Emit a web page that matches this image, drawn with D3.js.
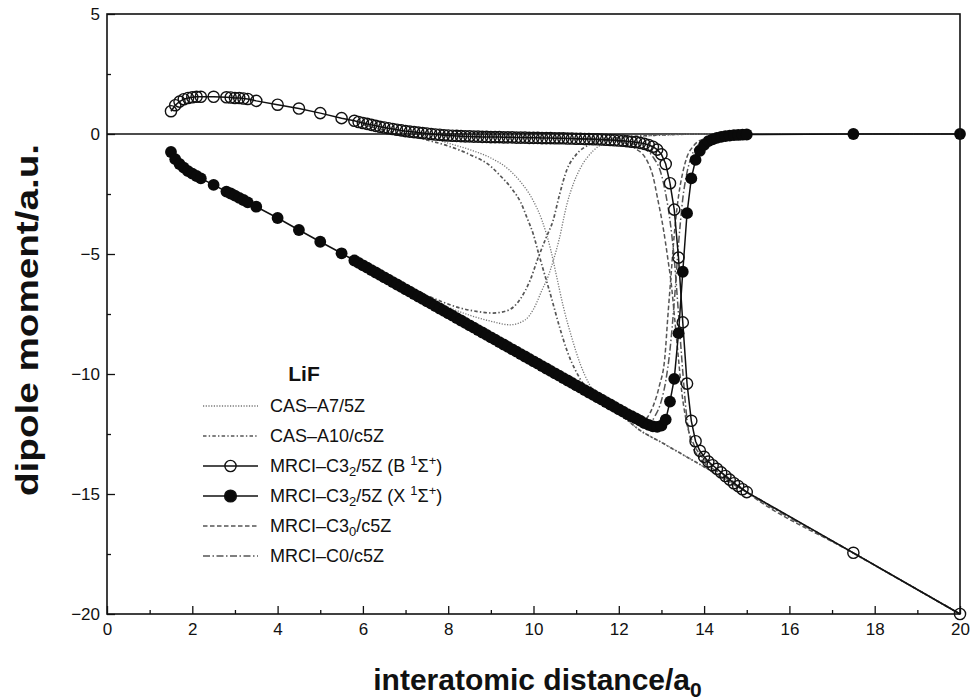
<!DOCTYPE html>
<html><head><meta charset="utf-8">
<script src="https://cdn.jsdelivr.net/npm/d3@7"></script>
<style>
body{margin:0;background:#fff}
svg{display:block}
text{font-family:"Liberation Sans",Arial,Helvetica,sans-serif;fill:#111}
</style>
</head><body>
<svg id="chart" width="975" height="700"></svg>
<script>
// ---------------- data ----------------
const xTickValues = [0,2,4,6,8,10,12,14,16,18,20];
const xMinorTicks = [1,3,5,7,9,11,13,15,17,19];
const yTickValues = [5,0,-5,-10,-15,-20];
const yMinorTicks = [2.5,-2.5,-7.5,-12.5,-17.5];

// MRCI-C3_2/5Z sampling grid (interatomic distance / a0)
const distGrid = [1.5,1.6,1.7,1.8,1.9,2.0,2.1,2.2,
  2.5,
  2.8,2.9,3.0,3.1,3.2,3.3,
  3.5,4.0,4.5,5.0,5.5,
  5.8,5.9,6.0,6.1,6.2,6.3,6.4,6.5,6.6,6.7,6.8,6.9,
  7.0,7.1,7.2,7.3,7.4,7.5,7.6,7.7,7.8,7.9,
  8.0,8.1,8.2,8.3,8.4,8.5,8.6,8.7,8.8,8.9,
  9.0,9.1,9.2,9.3,9.4,9.5,9.6,9.7,9.8,9.9,
  10.0,10.1,10.2,10.3,10.4,10.5,10.6,10.7,10.8,10.9,
  11.0,11.1,11.2,11.3,11.4,11.5,11.6,11.7,11.8,11.9,
  12.0,12.1,12.2,12.3,12.4,12.5,12.6,12.7,12.8,12.9,
  13.0,13.1,13.2,13.3,13.4,13.5,13.6,13.7,13.8,13.9,
  14.0,14.1,14.2,14.3,14.4,14.5,14.6,14.7,14.8,14.9,
  15.0,17.5,20.0];

// MRCI-C3_2/5Z  B 1Sigma+  (open circles)
const muB = [0.95,1.2,1.35,1.45,1.5,1.53,1.55,1.55,
  1.55,
  1.53,1.52,1.5,1.5,1.48,1.46,
  1.38,1.22,1.06,0.87,0.66,
  0.55,0.5,0.46,0.42,0.38,0.34,0.3,0.27,0.24,0.21,0.18,0.15,
  0.12,0.1,0.08,0.06,0.04,0.02,0.0,-0.02,-0.03,-0.05,
  -0.06,-0.07,-0.08,-0.09,-0.1,-0.1,-0.11,-0.11,-0.12,-0.12,
  -0.13,-0.13,-0.13,-0.14,-0.14,-0.14,-0.15,-0.15,-0.15,-0.16,
  -0.16,-0.16,-0.17,-0.17,-0.17,-0.18,-0.18,-0.18,-0.19,-0.19,
  -0.2,-0.2,-0.21,-0.21,-0.22,-0.22,-0.23,-0.24,-0.25,-0.26,
  -0.27,-0.28,-0.3,-0.32,-0.34,-0.37,-0.41,-0.46,-0.53,-0.65,
  -0.85,-1.25,-2.05,-3.15,-5.15,-7.85,-10.4,-11.95,-12.8,-13.2,
  -13.45,-13.65,-13.8,-13.95,-14.1,-14.25,-14.4,-14.55,-14.67,-14.8,
  -14.92,-17.45,-20.0];

// MRCI-C3_2/5Z  X 1Sigma+  (filled circles)
const muX = [-0.75,-1.05,-1.25,-1.4,-1.55,-1.65,-1.75,-1.85,
  -2.12,
  -2.4,-2.48,-2.57,-2.66,-2.75,-2.85,
  -3.03,-3.5,-4.0,-4.49,-4.97,
  -5.27,-5.37,-5.47,-5.57,-5.67,-5.77,-5.87,-5.97,-6.07,-6.17,-6.27,-6.37,
  -6.47,-6.57,-6.67,-6.77,-6.87,-6.97,-7.07,-7.17,-7.27,-7.37,
  -7.47,-7.57,-7.67,-7.77,-7.87,-7.97,-8.07,-8.17,-8.27,-8.37,
  -8.47,-8.57,-8.67,-8.77,-8.87,-8.97,-9.07,-9.17,-9.27,-9.37,
  -9.47,-9.57,-9.67,-9.77,-9.87,-9.97,-10.07,-10.17,-10.27,-10.37,
  -10.47,-10.57,-10.67,-10.77,-10.87,-10.97,-11.07,-11.17,-11.27,-11.37,
  -11.47,-11.57,-11.67,-11.76,-11.85,-11.94,-12.05,-12.12,-12.18,-12.2,
  -12.15,-11.9,-11.15,-10.2,-8.3,-5.74,-3.3,-1.85,-1.08,-0.7,
  -0.45,-0.3,-0.22,-0.16,-0.12,-0.09,-0.07,-0.05,-0.04,-0.03,
  -0.02,0.0,0.0];

// CAS-A7/5Z (two states)
const casA7UpperX = [6.0,7.0,7.5,8.0,8.5,9.0,9.4,9.7,10.0,10.2,10.4,10.55,10.7,10.9,11.1,11.3,11.5,11.8,12.0,12.5,13.0,13.5,14.0,14.5,15.0,17.5,20.0];
const casA7UpperY = [0.45,0.1,-0.12,-0.38,-0.65,-1.0,-1.45,-2.0,-2.8,-3.6,-4.8,-6.0,-7.2,-8.5,-9.6,-10.4,-10.95,-11.4,-11.65,-12.35,-12.85,-13.36,-13.87,-14.4,-14.92,-17.46,-20.0];
const casA7LowerX = [6.5,7.0,7.5,8.0,8.5,9.0,9.45,9.8,10.0,10.2,10.35,10.46,10.6,10.78,10.95,11.1,11.4,11.7,12.0,12.5,13.0,14.0,20.0];
const casA7LowerY = [-5.95,-6.4,-6.85,-7.22,-7.55,-7.8,-7.95,-7.75,-7.3,-6.5,-5.9,-5.3,-4.4,-2.95,-2.0,-1.42,-0.7,-0.35,-0.2,-0.1,-0.05,0.0,0.0];

// CAS-A10/c5Z (two states)
const casA10UpperX = [6.0,6.5,7.0,7.5,8.0,8.5,9.0,9.2,9.5,9.7,9.85,10.0,10.1,10.22,10.4,10.62,10.8,11.0,11.2,11.4,11.6,11.8,12.0,12.5,13.0,13.5,14.0,14.5,15.0,17.5,20.0];
const casA10UpperY = [0.4,0.15,-0.05,-0.25,-0.5,-0.85,-1.35,-1.7,-2.3,-2.85,-3.5,-4.2,-4.85,-5.6,-6.7,-8.1,-9.1,-9.9,-10.5,-10.9,-11.15,-11.38,-11.62,-12.35,-12.85,-13.36,-13.87,-14.4,-14.92,-17.46,-20.0];
const casA10LowerX = [6.0,6.5,7.0,7.34,7.8,8.28,8.7,9.05,9.4,9.7,9.92,10.1,10.3,10.46,10.6,10.78,11.0,11.3,11.6,12.0,12.5,13.0,14.0,20.0];
const casA10LowerY = [-5.45,-5.9,-6.3,-6.6,-6.95,-7.25,-7.4,-7.46,-7.35,-6.85,-6.1,-5.2,-4.3,-3.6,-2.6,-1.5,-0.86,-0.45,-0.25,-0.15,-0.08,-0.04,0.0,0.0];

// MRCI-C3_0/c5Z (two states)
const c30UpperX = [11.0,11.5,12.0,12.2,12.4,12.57,12.7,12.8,12.9,13.04,13.15,13.24,13.3,13.38,13.48,13.6,13.75,13.9,14.1,14.4,14.7,15.0,17.5,20.0];
const c30UpperY = [-0.2,-0.23,-0.3,-0.42,-0.62,-0.86,-1.25,-1.75,-2.6,-3.9,-5.2,-6.4,-7.5,-9.0,-10.8,-12.1,-12.9,-13.35,-13.7,-14.1,-14.5,-14.92,-17.46,-20.0];
const c30LowerX = [11.5,12.0,12.3,12.5,12.65,12.8,12.95,13.08,13.15,13.22,13.3,13.4,13.5,13.6,13.75,14.0,14.5,15.0,20.0];
const c30LowerY = [-11.0,-11.5,-11.8,-12.0,-11.85,-11.36,-10.5,-9.3,-7.6,-6.0,-4.2,-2.6,-1.6,-0.95,-0.5,-0.2,-0.06,0.0,0.0];

// MRCI-C0/c5Z (two states)
const c0UpperX = [11.0,11.5,12.0,12.3,12.6,12.8,13.0,13.1,13.2,13.3,13.4,13.5,13.6,13.7,13.85,14.0,14.3,14.6,15.0,17.5,20.0];
const c0UpperY = [-0.2,-0.23,-0.3,-0.4,-0.6,-0.95,-1.7,-2.5,-3.6,-5.2,-7.5,-9.9,-11.9,-12.85,-13.4,-13.7,-14.05,-14.45,-14.92,-17.46,-20.0];
const c0LowerX = [11.5,12.0,12.3,12.5,12.7,12.85,13.0,13.1,13.2,13.3,13.4,13.5,13.6,13.7,13.9,14.2,14.6,15.0,20.0];
const c0LowerY = [-11.0,-11.5,-11.8,-12.0,-12.05,-11.75,-11.1,-10.3,-9.0,-7.0,-4.6,-2.7,-1.6,-0.95,-0.4,-0.15,-0.05,0.0,0.0];

const legendLabels = ["CAS–A7/5Z","CAS–A10/c5Z","MRCI–C3₂/5Z (B ¹Σ⁺)","MRCI–C3₂/5Z (X ¹Σ⁺)","MRCI–C3₀/c5Z","MRCI–C0/c5Z"];

// ---------------- drawing ----------------
const svg = d3.select("#chart");
const x = d3.scaleLinear().domain([0,20]).range([107,960]);
const y = d3.scaleLinear().domain([-20,5]).range([614,14]);

const styles = {
  a7:  {stroke:"#777", width:1.3, dash:"1.2,1.5"},
  a10: {stroke:"#555", width:1.7, dash:"3.5,2.2,1.4,2.2"},
  c30: {stroke:"#555", width:1.5, dash:"4.5,2.5"},
  c0:  {stroke:"#555", width:1.5, dash:"7,2.5,1.5,2.5"}
};

const zip = (xs, ys) => xs.map((v,i)=>[v, ys[i]]);
const smooth = d3.line().x(d=>x(d[0])).y(d=>y(d[1])).curve(d3.curveMonotoneX);
const straight = d3.line().x(d=>x(d[0])).y(d=>y(d[1]));

const plot = svg.append("g");

// zero line
plot.append("line").attr("x1",x(0)).attr("x2",x(20)).attr("y1",y(0)).attr("y2",y(0))
  .attr("stroke","#111").attr("stroke-width",1.3);

function grayCurve(xs, ys, st){
  plot.append("path").attr("d", smooth(zip(xs,ys))).attr("fill","none")
    .attr("stroke",st.stroke).attr("stroke-width",st.width).attr("stroke-dasharray",st.dash);
}
grayCurve(casA7UpperX, casA7UpperY, styles.a7);
grayCurve(casA7LowerX, casA7LowerY, styles.a7);
grayCurve(casA10UpperX, casA10UpperY, styles.a10);
grayCurve(casA10LowerX, casA10LowerY, styles.a10);
grayCurve(c30UpperX, c30UpperY, styles.c30);
grayCurve(c30LowerX, c30LowerY, styles.c30);
grayCurve(c0UpperX, c0UpperY, styles.c0);
grayCurve(c0LowerX, c0LowerY, styles.c0);

const bData = zip(distGrid, muB);
const xData = zip(distGrid, muX);

plot.append("path").attr("d", straight(xData)).attr("fill","none").attr("stroke","#111").attr("stroke-width",1.5);
plot.append("path").attr("d", straight(bData)).attr("fill","none").attr("stroke","#111").attr("stroke-width",1.5);

plot.append("g").selectAll("circle").data(xData).join("circle")
  .attr("cx",d=>x(d[0])).attr("cy",d=>y(d[1])).attr("r",5.9).attr("fill","#0a0a0a");
plot.append("g").selectAll("circle").data(bData).join("circle")
  .attr("cx",d=>x(d[0])).attr("cy",d=>y(d[1])).attr("r",5.6).attr("fill","none")
  .attr("stroke","#111").attr("stroke-width",1.4);

// axes
const axisG = svg.append("g");
axisG.append("g").attr("transform",`translate(0,${y(-20)})`)
  .call(d3.axisBottom(x).tickValues(xTickValues).tickSize(-8).tickPadding(9).tickFormat(d3.format("d")));
axisG.append("g").attr("transform",`translate(0,${y(-20)})`)
  .call(d3.axisBottom(x).tickValues(xMinorTicks).tickSize(-4).tickFormat(""));
axisG.append("g").attr("transform",`translate(${x(0)},0)`)
  .call(d3.axisLeft(y).tickValues(yTickValues).tickSize(-8).tickPadding(7).tickFormat(d=>d<0?"−"+Math.abs(d):d));
axisG.append("g").attr("transform",`translate(${x(0)},0)`)
  .call(d3.axisLeft(y).tickValues(yMinorTicks).tickSize(-4).tickFormat(""));
axisG.selectAll(".domain").remove();
axisG.selectAll(".tick line").attr("stroke","#111").attr("stroke-width",1.3);
axisG.selectAll(".tick text").attr("font-size",17).attr("fill","#111")
  .style("font-family",'"Liberation Sans",Arial,sans-serif');

// frame
svg.append("rect").attr("x",x(0)).attr("y",y(5)).attr("width",x(20)-x(0)).attr("height",y(-20)-y(5))
  .attr("fill","none").attr("stroke","#111").attr("stroke-width",1.6);

// axis titles
const xt = svg.append("text").attr("x",(x(0)+x(20))/2+4).attr("y",690).attr("text-anchor","middle")
  .attr("font-size",30).attr("font-weight","bold").text("interatomic distance/a");
xt.append("tspan").attr("dy",7).attr("font-size",21).text("0");

svg.append("text").attr("transform",`translate(38,${(y(0)+y(-15))/2+6}) rotate(-90)`)
  .attr("text-anchor","middle").attr("font-size",31).attr("font-weight","bold")
  .attr("textLength",352).attr("lengthAdjust","spacingAndGlyphs")
  .text("dipole moment/a.u.");

// legend
const leg = svg.append("g");
leg.append("text").attr("x",304).attr("y",381).attr("text-anchor","middle")
  .attr("font-size",21).attr("font-weight","bold").text("LiF");
const rowY = [406,436,466,496,526,556];
const legStyles = [styles.a7, styles.a10, null, null, styles.c30, styles.c0];
const lx0 = 203, lx1 = 258, tx = 270;
legendLabels.forEach((lab,i)=>{
  const yy = rowY[i];
  const st = legStyles[i];
  if (st) {
    leg.append("line").attr("x1",lx0).attr("x2",lx1).attr("y1",yy).attr("y2",yy)
      .attr("stroke",st.stroke).attr("stroke-width",st.width).attr("stroke-dasharray",st.dash);
  } else {
    leg.append("line").attr("x1",lx0).attr("x2",lx1).attr("y1",yy).attr("y2",yy)
      .attr("stroke","#111").attr("stroke-width",1.5);
    leg.append("circle").attr("cx",(lx0+lx1)/2).attr("cy",yy).attr("r",i===3?5.9:5.6)
      .attr("fill", i===3 ? "#0a0a0a" : "none").attr("stroke","#111").attr("stroke-width",1.4);
  }
  const t = leg.append("text").attr("x",tx).attr("y",yy+6).attr("font-size",18);
  if (i===2 || i===3) {
    t.append("tspan").text("MRCI–C3");
    t.append("tspan").attr("dy",4).attr("font-size",13).text("2");
    t.append("tspan").attr("dy",-4).text(i===2 ? "/5Z (B " : "/5Z (X ");
    t.append("tspan").attr("dy",-7).attr("font-size",13).text("1");
    t.append("tspan").attr("dy",7).text("Σ");
    t.append("tspan").attr("dy",-7).attr("font-size",13).text("+");
    t.append("tspan").attr("dy",7).text(")");
  } else if (i===4) {
    t.append("tspan").text("MRCI–C3");
    t.append("tspan").attr("dy",4).attr("font-size",13).text("0");
    t.append("tspan").attr("dy",-4).text("/c5Z");
  } else {
    t.text(lab);
  }
});
</script>
</body></html>
